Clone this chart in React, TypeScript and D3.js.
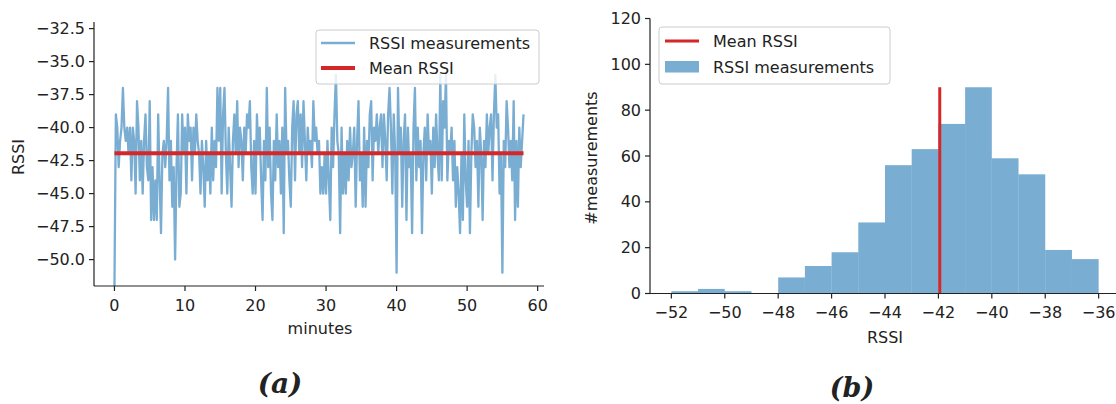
import React from "react";
import * as d3 from "d3";

// ---------- data ----------
const MINUTE_STEP = 0.2;
const RSSI_SERIES = [
  -52, -39, -40, -43, -41, -40, -37, -40, -41, -40, -42, -40, -44, -40, -41,
  -45, -38, -40, -44, -41, -45, -41, -39, -43, -44, -38, -47, -43, -47, -44,
  -47, -39, -44, -48, -42, -41, -43, -41, -37, -44, -41, -46, -43, -50, -43,
  -39, -46, -45, -39, -42, -40, -45, -39, -41, -40, -44, -40, -42, -39, -41,
  -42, -45, -41, -43, -46, -41, -44, -42, -45, -40, -44, -41, -43, -37, -41,
  -37, -45, -39, -37, -42, -45, -40, -43, -46, -41, -39, -42, -38, -43, -40,
  -41, -44, -40, -42, -39, -40, -38, -43, -45, -41, -45, -39, -42, -40, -44,
  -47, -41, -44, -37, -43, -40, -45, -47, -41, -44, -39, -43, -41, -45, -40,
  -48, -37, -42, -41, -44, -46, -40, -38, -44, -39, -38, -42, -39, -43, -38,
  -41, -44, -40, -42, -41, -43, -38, -41, -40, -42, -41, -45, -43, -45, -42,
  -45, -41, -44, -47, -40, -43, -39, -36, -41, -42, -48, -40, -45, -42, -45,
  -41, -44, -40, -43, -42, -40, -46, -41, -38, -44, -42, -46, -40, -46, -41,
  -43, -39, -38, -44, -40, -41, -39, -42, -40, -39, -43, -39, -41, -44, -39,
  -37, -40, -45, -39, -42, -51, -37, -42, -40, -46, -41, -39, -47, -40, -43,
  -42, -48, -40, -37, -44, -40, -43, -41, -48, -42, -40, -44, -39, -42, -41,
  -45, -40, -43, -39, -42, -44, -36, -44, -38, -40, -36, -44, -41, -42, -40,
  -44, -41, -46, -43, -45, -48, -42, -47, -39, -44, -46, -41, -48, -42, -39,
  -40, -43, -41, -46, -40, -42, -47, -41, -43, -39, -42, -40, -39, -44, -39,
  -36, -40, -39, -45, -42, -51, -41, -43, -38, -40, -43, -41, -44, -38, -47,
  -41, -46, -40, -43, -41, -39,
];
const MEAN_RSSI = -41.95;

const HIST_BIN_STARTS = [-52, -51, -50, -49, -48, -47, -46, -45, -44, -43, -42, -41, -40, -39, -38, -37];
const HIST_BIN_WIDTH = 1;
const HIST_COUNTS = [1, 2, 1, 0, 7, 12, 18, 31, 56, 63, 74, 90, 59, 52, 19, 15];

const LEFT_X_TICKS = [0, 10, 20, 30, 40, 50, 60];
const LEFT_Y_TICKS = [-50, -47.5, -45, -42.5, -40, -37.5, -35, -32.5];
const RIGHT_X_TICKS = [-52, -50, -48, -46, -44, -42, -40, -38, -36];
const RIGHT_Y_TICKS = [0, 20, 40, 60, 80, 100, 120];

// ---------- styles ----------
const FONT = "DejaVu Sans";
const BLUE = "#1f77b4";
const RED = "#d62728";
const AXIS = "#222";
const FS = 16;

const fmtMinus = (s: string) => s.replace(/-/g, "\u2212");

export default function App() {
  // left panel
  const xL = d3.scaleLinear().domain([-2.9, 60.9]).range([94, 544]);
  const yL = d3.scaleLinear().domain([-52, -32]).range([286, 22]);
  const pts: [number, number][] = RSSI_SERIES.map((v, i) => [i * MINUTE_STEP, v]);
  const lastT = (RSSI_SERIES.length - 1) * MINUTE_STEP;
  const linePath = d3
    .line<[number, number]>()
    .x((d) => xL(d[0]))
    .y((d) => yL(d[1]))(pts) as string;

  // right panel
  const xR = d3.scaleLinear().domain([-52.8, -35.2]).range([650, 1120]);
  const yR = d3.scaleLinear().domain([0, 120]).range([293.5, 18.5]);

  const fmtL = d3.format(".1f");

  return (
    <svg
      width={1116}
      height={404}
      style={{ position: "absolute", left: 0, top: 0, background: "#fff" }}
      fontFamily={FONT}
    >
      <rect x={0} y={0} width={1116} height={404} fill="#fff" />

      {/* ===== Left panel ===== */}
      <path d={linePath} fill="none" stroke={BLUE} strokeOpacity={0.6} strokeWidth={2.3} strokeLinejoin="round" />
      <line x1={xL(0)} x2={xL(lastT)} y1={yL(MEAN_RSSI)} y2={yL(MEAN_RSSI)} stroke={RED} strokeWidth={4} />

      {/* axes */}
      <line x1={xL.range()[0]} x2={xL.range()[0]} y1={yL.range()[1]} y2={yL.range()[0]} stroke={AXIS} strokeWidth={1.2} />
      <line x1={xL.range()[0]} x2={xL.range()[1]} y1={yL.range()[0]} y2={yL.range()[0]} stroke={AXIS} strokeWidth={1.2} />
      {LEFT_Y_TICKS.map((t) => (
        <g key={"ly" + t}>
          <line x1={xL.range()[0] - 5} x2={xL.range()[0]} y1={yL(t)} y2={yL(t)} stroke={AXIS} strokeWidth={1.2} />
          <text x={xL.range()[0] - 9} y={yL(t)} textAnchor="end" dominantBaseline="central" fontSize={FS} fill="#222">
            {fmtMinus(fmtL(t))}
          </text>
        </g>
      ))}
      {LEFT_X_TICKS.map((t) => (
        <g key={"lx" + t}>
          <line x1={xL(t)} x2={xL(t)} y1={yL.range()[0]} y2={yL.range()[0] + 5} stroke={AXIS} strokeWidth={1.2} />
          <text x={xL(t)} y={yL.range()[0] + 19} textAnchor="middle" dominantBaseline="central" fontSize={FS} fill="#222">
            {String(t)}
          </text>
        </g>
      ))}
      <text x={18} y={157} transform="rotate(-90 18 157)" textAnchor="middle" dominantBaseline="central" fontSize={FS} fill="#222">
        RSSI
      </text>
      <text x={320} y={328} textAnchor="middle" dominantBaseline="central" fontSize={FS} fill="#222">
        minutes
      </text>

      {/* legend left */}
      <rect x={316} y={30} width={223} height={54} rx={3} fill="#fff" fillOpacity={0.8} stroke="#ccc" strokeWidth={1} />
      <line x1={321} x2={355} y1={43} y2={43} stroke={BLUE} strokeOpacity={0.6} strokeWidth={2.3} />
      <text x={369} y={43} dominantBaseline="central" fontSize={FS} fill="#222">
        RSSI measurements
      </text>
      <line x1={321} x2={355} y1={68} y2={68} stroke={RED} strokeWidth={4} />
      <text x={369} y={68} dominantBaseline="central" fontSize={FS} fill="#222">
        Mean RSSI
      </text>

      <text x={280} y={383} textAnchor="middle" dominantBaseline="central" fontSize={28} fontFamily="DejaVu Serif" fontWeight="bold" fontStyle="italic" fill="#222">
        (a)
      </text>

      {/* ===== Right panel ===== */}
      {HIST_COUNTS.map((c, i) => (
        <rect
          key={"b" + i}
          x={xR(HIST_BIN_STARTS[i])}
          y={yR(c)}
          width={xR(HIST_BIN_STARTS[i] + HIST_BIN_WIDTH) - xR(HIST_BIN_STARTS[i])}
          height={yR(0) - yR(c)}
          fill={BLUE}
          fillOpacity={0.6}
        />
      ))}
      <line x1={xR(MEAN_RSSI)} x2={xR(MEAN_RSSI)} y1={yR(0)} y2={yR(d3.max(HIST_COUNTS) as number)} stroke={RED} strokeWidth={3} />

      <line x1={xR.range()[0]} x2={xR.range()[0]} y1={yR.range()[1]} y2={yR.range()[0]} stroke={AXIS} strokeWidth={1.2} />
      <line x1={xR.range()[0]} x2={xR.range()[1]} y1={yR.range()[0]} y2={yR.range()[0]} stroke={AXIS} strokeWidth={1.2} />
      {RIGHT_Y_TICKS.map((t) => (
        <g key={"ry" + t}>
          <line x1={xR.range()[0] - 5} x2={xR.range()[0]} y1={yR(t)} y2={yR(t)} stroke={AXIS} strokeWidth={1.2} />
          <text x={xR.range()[0] - 9} y={yR(t)} textAnchor="end" dominantBaseline="central" fontSize={FS} fill="#222">
            {String(t)}
          </text>
        </g>
      ))}
      {RIGHT_X_TICKS.map((t) => (
        <g key={"rx" + t}>
          <line x1={xR(t)} x2={xR(t)} y1={yR.range()[0]} y2={yR.range()[0] + 5} stroke={AXIS} strokeWidth={1.2} />
          <text x={xR(t)} y={yR.range()[0] + 19} textAnchor="middle" dominantBaseline="central" fontSize={FS} fill="#222">
            {fmtMinus(String(t))}
          </text>
        </g>
      ))}
      <text x={591} y={158} transform="rotate(-90 591 158)" textAnchor="middle" dominantBaseline="central" fontSize={FS} fill="#222">
        #measurements
      </text>
      <text x={885} y={337} textAnchor="middle" dominantBaseline="central" fontSize={FS} fill="#222">
        RSSI
      </text>

      {/* legend right */}
      <rect x={659} y={27} width={231} height={57} rx={3} fill="#fff" fillOpacity={0.8} stroke="#ccc" strokeWidth={1} />
      <line x1={665} x2={699} y1={41} y2={41} stroke={RED} strokeWidth={3} />
      <text x={713} y={41} dominantBaseline="central" fontSize={FS} fill="#222">
        Mean RSSI
      </text>
      <rect x={665} y={61} width={34} height={11.5} fill={BLUE} fillOpacity={0.6} />
      <text x={713} y={67} dominantBaseline="central" fontSize={FS} fill="#222">
        RSSI measurements
      </text>

      <text x={852} y={387} textAnchor="middle" dominantBaseline="central" fontSize={27} fontFamily="DejaVu Serif" fontWeight="bold" fontStyle="italic" fill="#222">
        (b)
      </text>
    </svg>
  );
}
